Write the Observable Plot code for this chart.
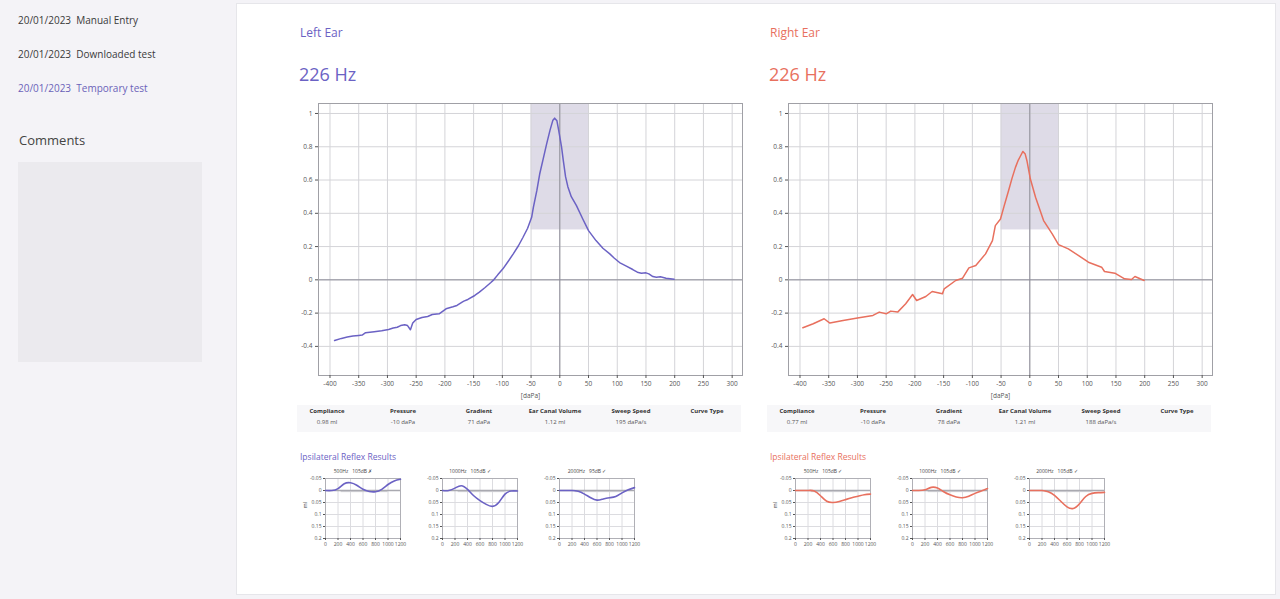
<!DOCTYPE html>
<html>
<head>
<meta charset="utf-8">
<script src="https://cdn.jsdelivr.net/npm/d3@7"></script>
<script src="https://cdn.jsdelivr.net/npm/@observablehq/plot@0.6"></script>
<style>
  html, body { margin: 0; padding: 0; }
  body { width: 1280px; height: 599px; background: #f4f3f7; position: relative; overflow: hidden; font-family: "Open Sans", "Noto Sans", sans-serif; color: #333; }
  .abs { position: absolute; }
  #sidebar { left: 0; top: 0; width: 234px; height: 599px; background: #f4f3f7; }
  #main { left: 236px; top: 3px; width: 1040px; height: 592px; background: #fff; border: 1px solid #e6e6ea; box-sizing: border-box; }
  .entry { font-size: 10px; color: #3a3a3a; white-space: pre; }
  .entry.sel { color: #6b62b9; }
  .earTitle { font-size: 12px; }
  .hz { font-size: 18px; }
  .tbl { font-size: 6px; text-align: center; width: 70px; margin-left: -35px; }
  .tbl.h { font-weight: bold; color: #333; }
  .tbl.v { color: #555; }
  .band { background: #f7f7f9; }
  .reflexTitle { font-size: 8.5px; }
  svg { overflow: visible; }
</style>
</head>
<body>
<div id="sidebar" class="abs"></div>
<div id="main" class="abs"></div>
<div id="root"></div>
<script>
// ---------- DATA ----------
const sideDates = ["20/01/2023", "20/01/2023", "20/01/2023"];
const sideLabels = ["Manual Entry", "Downloaded test", "Temporary test"];

const leftPressure = [-392,-380,-370,-360,-350,-344,-338,-323,-310,-298,-290,-283,-277,-270,-265,-260,-256,-250,-240,-230,-222,-210,-198,-186,-179,-170,-167,-160,-148,-140,-130,-120,-115,-108,-99,-90,-81,-72,-64,-56,-49,-46,-40,-35,-29,-23,-17,-12,-9,-5,-2,1,3,6,10,14,20,29,40,50,63,75,87,95,104,115,127,135,142,150,155,162,168,175,185,199];
const leftCompliance = [-0.365,-0.352,-0.344,-0.338,-0.334,-0.332,-0.318,-0.312,-0.306,-0.298,-0.29,-0.285,-0.275,-0.27,-0.275,-0.3,-0.26,-0.238,-0.226,-0.22,-0.208,-0.204,-0.174,-0.162,-0.154,-0.134,-0.128,-0.118,-0.094,-0.074,-0.046,-0.016,0,0.03,0.066,0.11,0.156,0.205,0.256,0.31,0.376,0.436,0.536,0.636,0.726,0.816,0.9,0.96,0.972,0.956,0.9,0.84,0.8,0.72,0.62,0.56,0.5,0.446,0.366,0.296,0.236,0.19,0.156,0.13,0.104,0.084,0.062,0.046,0.04,0.042,0.036,0.02,0.016,0.018,0.01,0.004];

const rightPressure = [-395,-377,-358,-348,-325,-300,-273,-262,-250,-242,-230,-216,-204,-197,-181,-170,-152,-149,-129,-117,-106,-94,-77,-65,-60,-51,-45,-37,-31,-25,-20,-16,-12,-8,-5,1,10,24,39,50,67,85,102,125,130,148,165,177,183,199];
const rightCompliance = [-0.288,-0.264,-0.234,-0.26,-0.244,-0.23,-0.214,-0.194,-0.204,-0.188,-0.194,-0.144,-0.088,-0.124,-0.1,-0.07,-0.084,-0.054,-0.004,0.01,0.072,0.086,0.156,0.236,0.326,0.366,0.44,0.536,0.61,0.676,0.72,0.746,0.772,0.756,0.716,0.606,0.496,0.356,0.276,0.212,0.186,0.146,0.106,0.076,0.05,0.04,0.006,0.002,0.02,-0.004];

const pressureTicks = [-400,-350,-300,-250,-200,-150,-100,-50,0,50,100,150,200,250,300];
const complianceTicks = [-0.4,-0.2,0,0.2,0.4,0.6,0.8,1];

const tableHeaders = ["Compliance", "Pressure", "Gradient", "Ear Canal Volume", "Sweep Speed", "Curve Type"];
const leftValues = ["0.98 ml", "-10 daPa", "71 daPa", "1.12 ml", "195 daPa/s", ""];
const rightValues = ["0.77 ml", "-10 daPa", "78 daPa", "1.21 ml", "188 daPa/s", ""];

const reflexTime = [0,100,200,300,400,500,600,700,800,900,1000,1100,1200];
const reflexTimeTicks = [0,200,400,600,800,1000,1200];
const reflexTicks = [-0.05,0,0.05,0.1,0.15,0.2];
const leftReflexTitles = ["500Hz   105dB \u2717", "1000Hz   105dB \u2713", "2000Hz   95dB \u2713"];
const rightReflexTitles = ["500Hz   105dB \u2713", "1000Hz   105dB \u2713", "2000Hz   105dB \u2713"];
const leftReflex500 = [0,0,-0.008,-0.028,-0.032,-0.022,-0.005,0.004,0.005,-0.005,-0.025,-0.04,-0.047];
const leftReflex1000 = [0,0,-0.01,-0.02,-0.005,0.022,0.042,0.058,0.066,0.05,0.015,0.002,0.002];
const leftReflex2000 = [0,0,0,0.003,0.015,0.03,0.04,0.035,0.03,0.025,0.01,-0.003,-0.012];
const rightReflex500 = [0,0,0,0.002,0.022,0.045,0.05,0.046,0.038,0.03,0.024,0.018,0.015];
const rightReflex1000 = [0,0,-0.003,-0.013,-0.01,0.005,0.018,0.027,0.03,0.024,0.012,0.002,-0.008];
const rightReflex2000 = [0,0,0,0.005,0.02,0.045,0.068,0.075,0.055,0.025,0.012,0.009,0.008];

const leftColor = "#6b62c4";
const rightColor = "#e8705e";

// ---------- HELPERS ----------
const root = document.getElementById("root");
function place(el, x, y) { el.classList.add("abs"); el.style.left = x + "px"; el.style.top = y + "px"; root.appendChild(el); return el; }
function text(str, cls, x, y, style) {
  const d = document.createElement("div");
  d.className = cls; d.textContent = str;
  if (style) Object.assign(d.style, style);
  return place(d, x, y);
}
const fmt = d => String(+d.toFixed(2));

// ---------- SIDEBAR ----------
sideDates.forEach((dt, i) => {
  text(dt + "  " + sideLabels[i], "entry" + (i === 2 ? " sel" : ""), 18, 13 + i * 34);
});
text("Comments", "", 19, 131, {fontSize: "13px", color: "#444"});
const box = document.createElement("div");
Object.assign(box.style, {width: "184px", height: "200px", background: "#ebeaee"});
place(box, 18, 162);

// ---------- MAIN TYMPANOGRAMS ----------
function tymp(pressure, compliance, color) {
  const data = pressure.map((p, i) => ({p, c: compliance[i]}));
  return Plot.plot({
    width: 460, height: 310,
    marginLeft: 28, marginTop: 8, marginRight: 8, marginBottom: 30,
    style: {fontFamily: "Open Sans, sans-serif", fontSize: "6.5px", color: "#555", background: "transparent", overflow: "visible"},
    x: {domain: [-420, 318]},
    y: {domain: [-0.575, 1.06]},
    marks: [
      Plot.rect([{x1: -50, x2: 50, y1: 0.3, y2: 1.06}], {x1: "x1", x2: "x2", y1: "y1", y2: "y2", fill: "#dedbe7"}),
      Plot.gridX(pressureTicks, {stroke: "#d4d4d8", strokeOpacity: 1}),
      Plot.gridY(complianceTicks, {stroke: "#d4d4d8", strokeOpacity: 1}),
      Plot.ruleX([0], {stroke: "#8d8c98", strokeWidth: 1}),
      Plot.ruleY([0], {stroke: "#8d8c98", strokeWidth: 1}),
      Plot.frame({stroke: "#a0a0a6"}),
      Plot.axisX(pressureTicks, {tickSize: 3, tickPadding: 3, tickFormat: fmt, label: "[daPa]", labelAnchor: "center", labelArrow: "none", labelOffset: 22}),
      Plot.axisY(complianceTicks, {tickSize: 3, tickPadding: 3, tickFormat: fmt, label: null}),
      Plot.line(data, {x: "p", y: "c", stroke: color, strokeWidth: 1.5, strokeLinejoin: "round"})
    ]
  });
}

function earBlock(x0, name, color, pressure, compliance, values, reflexTitles, reflexSeries) {
  text(name, "earTitle", x0, 24, {color});
  text("226 Hz", "hz", x0 - 1, 62, {color});
  place(tymp(pressure, compliance, color), x0 - 10, 95);
  // parameter table
  const band = document.createElement("div");
  band.className = "band";
  Object.assign(band.style, {width: "444px", height: "27px"});
  place(band, x0 - 3, 405);
  tableHeaders.forEach((h, i) => {
    const cx = x0 + 27 + i * 76;
    text(h, "tbl h", cx, 407);
    text(values[i], "tbl v", cx, 418);
  });
  text("Ipsilateral Reflex Results", "reflexTitle", x0, 451, {color});
  reflexSeries.forEach((vals, i) => {
    place(reflexChart(vals, reflexTitles[i], color, i === 0), x0 - 5 + i * 117, 463);
  });
}

function reflexChart(values, title, color, showUnit) {
  const data = reflexTime.map((t, i) => ({t, v: values[i]}));
  const marks = [
    Plot.gridX(reflexTimeTicks, {stroke: "#dcdce0", strokeOpacity: 1}),
    Plot.gridY(reflexTicks, {stroke: "#dcdce0", strokeOpacity: 1}),
    Plot.rect([{x1: 250, x2: 1000, y1: 0, y2: 0.009}], {x1: "x1", x2: "x2", y1: "y1", y2: "y2", fill: "#d6d6da"}),
    Plot.ruleY([0], {stroke: "#a9a9b0", strokeWidth: 1.6}),
    Plot.frame({stroke: "#b0b0b6"}),
    Plot.axisX(reflexTimeTicks, {tickSize: 2, tickPadding: 2, tickFormat: fmt, label: null}),
    Plot.axisY(reflexTicks, {tickSize: 2, tickPadding: 2, tickFormat: fmt, label: null}),
    Plot.text([title], {frameAnchor: "top", dy: -9, dx: -10, fontSize: 5, fill: "#444"}),
    Plot.line(data, {x: "t", y: "v", stroke: color, strokeWidth: 1.6, curve: "natural"})
  ];
  if (showUnit) marks.push(Plot.text(["ml"], {frameAnchor: "left", dx: -20, rotate: -90, fontSize: 5.5, fill: "#444"}));
  return Plot.plot({
    width: 115, height: 92,
    marginLeft: 30, marginRight: 10, marginTop: 15, marginBottom: 17,
    style: {fontFamily: "Open Sans, sans-serif", fontSize: "5px", color: "#555", background: "transparent", overflow: "visible"},
    x: {domain: [0, 1200]},
    y: {domain: [-0.05, 0.2], reverse: true},
    marks
  });
}

earBlock(300, "Left Ear", leftColor, leftPressure, leftCompliance, leftValues, leftReflexTitles,
  [leftReflex500, leftReflex1000, leftReflex2000]);
earBlock(770, "Right Ear", rightColor, rightPressure, rightCompliance, rightValues, rightReflexTitles,
  [rightReflex500, rightReflex1000, rightReflex2000]);
</script>
</body>
</html>
